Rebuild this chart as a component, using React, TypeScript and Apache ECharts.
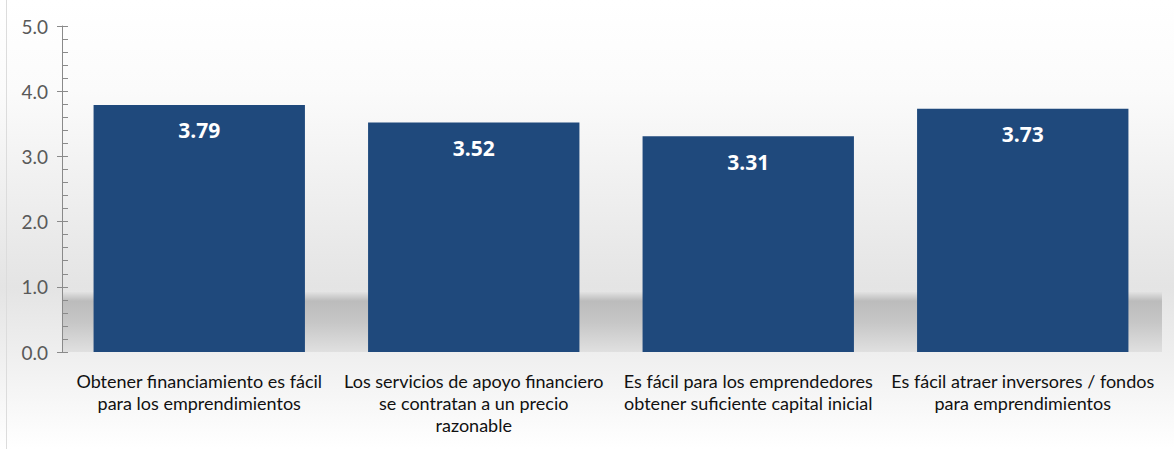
import React, { useEffect, useRef } from "react";
import * as echarts from "echarts";

const categories = [
  "Obtener financiamiento es fácil\npara los emprendimientos",
  "Los servicios de apoyo financiero\nse contratan a un precio\nrazonable",
  "Es fácil para los emprendedores\nobtener suficiente capital inicial",
  "Es fácil atraer inversores / fondos\npara emprendimientos",
];
const values = [3.79, 3.52, 3.31, 3.73];
const yMin = 0;
const yMax = 5;
const yInterval = 1;

export default function App() {
  const ref = useRef<HTMLDivElement>(null);
  useEffect(() => {
    document.body.style.margin = "0";
    const chart = echarts.init(ref.current!, null, { renderer: "svg" });
    const W = 1174;
    const H = 449;
    chart.setOption({
      animation: false,
      graphic: [
        {
          type: "rect",
          z: -10,
          silent: true,
          shape: { x: 0, y: 0, width: W, height: H },
          style: {
            fill: new echarts.graphic.LinearGradient(0, 0, 0, 1, [
              { offset: 0, color: "#ffffff" },
              { offset: 0.2, color: "#fbfbfb" },
              { offset: 0.64, color: "#e4e4e4" },
              { offset: 0.79, color: "#efefef" },
              { offset: 1, color: "#ffffff" },
            ]),
          },
        },
        {
          type: "rect",
          z: -5,
          silent: true,
          shape: { x: 62, y: 292, width: 1100, height: 60 },
          style: {
            fill: new echarts.graphic.LinearGradient(0, 0, 0, 1, [
              { offset: 0, color: "#e2e2e2" },
              { offset: 0.15, color: "#bcbcbc" },
              { offset: 0.5, color: "#c6c6c6" },
              { offset: 1, color: "#e0e0e0" },
            ]),
          },
        },
        {
          type: "line",
          z: -4,
          silent: true,
          shape: { x1: 6.5, y1: 0, x2: 6.5, y2: H },
          style: { stroke: "#dcdcdc", lineWidth: 1 },
        },
      ],
      grid: { left: 62, right: 14, top: 26, bottom: 97 },
      xAxis: {
        type: "category",
        data: categories,
        axisLine: { show: false },
        axisTick: { show: false },
        axisLabel: {
          interval: 0,
          margin: 18,
          color: "#111111",
          fontSize: 18,
          lineHeight: 22,
          fontFamily: "Lato",
        },
      },
      yAxis: [
        {
          type: "value",
          min: yMin,
          max: yMax,
          interval: yInterval,
          splitLine: { show: false },
          axisLine: { show: true, lineStyle: { color: "#8a8a8a" } },
          axisTick: { show: true, inside: true, length: 6, lineStyle: { color: "#8a8a8a" } },
          minorTick: { show: true, splitNumber: 5, length: 6, lineStyle: { color: "#8a8a8a" } },
          axisLabel: {
            margin: 14,
            color: "#595959",
            fontSize: 19,
            fontFamily: "Lato",
            formatter: (v: number) => v.toFixed(1),
          },
        },
        {
          type: "value",
          position: "left",
          min: yMin,
          max: yMax,
          interval: yInterval,
          splitLine: { show: false },
          axisLine: { show: false },
          axisTick: { show: true, length: 5, lineStyle: { color: "#8a8a8a" } },
          axisLabel: { show: false },
        },
      ],
      series: [
        {
          type: "bar",
          data: values,
          barCategoryGap: "23%",
          itemStyle: { color: "#1F497C" },
          label: {
            show: true,
            position: "insideTop",
            distance: 15,
            color: "#ffffff",
            fontWeight: "bold",
            fontSize: 21,
            fontFamily: "Open Sans",
            formatter: (p: any) => p.value.toFixed(2),
          },
        },
      ],
    });
    return () => chart.dispose();
  }, []);
  return <div ref={ref} style={{ width: 1174, height: 449 }} />;
}
